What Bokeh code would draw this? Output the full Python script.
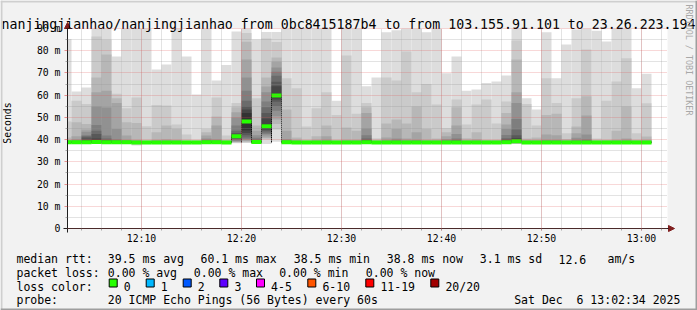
import pandas as pd
from bokeh.plotting import figure
from bokeh.models import (Range1d, FixedTicker, DatetimeTickFormatter, Label,
                          BoxAnnotation, Arrow, NormalHead)
from bokeh.embed import file_html
from bokeh.resources import INLINE

# ---------------- data ----------------
title_text = "nanjingjianhao/nanjingjianhao from 0bc8415187b4 to from 103.155.91.101 to 23.26.223.194"
y_axis_title = "Seconds"
y_ticks = [0, 10, 20, 30, 40, 50, 60, 70, 80, 90]
y_tick_labels = ["0", "10 m", "20 m", "30 m", "40 m", "50 m", "60 m", "70 m", "80 m", "90 m"]
x_tick_times = ["12:10", "12:20", "12:30", "12:40", "12:50", "13:00"]
day = "2025-12-06"
first_minute = "12:03"          # end time of the first step
view_start = "12:02:36"
view_end = "13:02:36"
y_top = 90

# upper half of the 20 sorted pings per minute (p20 .. p11), ms
smoke_upper = [
    [85.3, 48.1, 41.0, 39.8, 39.5, 39.3, 39.2, 39.1, 39.0, 38.9],  # 12:03
    [61.6, 57.5, 47.8, 41.5, 40.0, 39.5, 39.3, 39.2, 39.0, 38.9],  # 12:04
    [63.4, 56.0, 47.0, 44.5, 43.5, 42.0, 41.5, 41.0, 39.6, 39.0],  # 12:05
    [93.0, 86.4, 68.0, 61.3, 54.9, 46.6, 44.0, 42.5, 40.5, 39.2],  # 12:06
    [93.0, 84.9, 78.3, 62.0, 54.5, 41.8, 40.5, 39.8, 39.3, 39.0],  # 12:07
    [77.4, 60.6, 58.6, 56.5, 44.8, 40.0, 39.6, 39.3, 39.1, 38.9],  # 12:08
    [93.0, 54.1, 47.8, 41.8, 39.8, 39.5, 39.3, 39.1, 39.0, 38.9],  # 12:09
    [93.0, 59.0, 47.5, 39.8, 39.5, 39.3, 39.1, 39.0, 38.9, 38.8],  # 12:10
    [93.0, 46.0, 39.6, 39.4, 39.2, 39.1, 39.0, 38.9, 38.9, 38.8],  # 12:11
    [71.5, 55.6, 43.3, 39.8, 39.5, 39.3, 39.1, 39.0, 38.9, 38.8],  # 12:12
    [73.8, 55.3, 46.3, 40.0, 39.6, 39.3, 39.1, 39.0, 38.9, 38.8],  # 12:13
    [93.0, 46.8, 44.8, 39.8, 39.5, 39.3, 39.1, 39.0, 38.9, 38.8],  # 12:14
    [77.4, 42.3, 39.6, 39.4, 39.2, 39.1, 39.0, 38.9, 38.9, 38.8],  # 12:15
    [60.3, 39.8, 39.5, 39.3, 39.2, 39.1, 39.0, 38.9, 38.9, 38.8],  # 12:16
    [93.0, 44.8, 43.3, 41.8, 40.5, 39.8, 39.4, 39.1, 39.0, 38.9],  # 12:17
    [66.6, 59.0, 50.4, 46.3, 40.0, 39.6, 39.3, 39.1, 39.0, 38.9],  # 12:18
    [73.6, 41.8, 39.7, 39.5, 39.3, 39.1, 39.0, 38.9, 38.9, 38.8],  # 12:19
    [88.6, 56.5, 54.6, 52.3, 50.0, 46.3, 44.0, 43.0, 42.3, 41.8],  # 12:20
    [95.0, 88.0, 84.0, 76.0, 68.0, 62.0, 57.5, 55.0, 53.5, 52.0],  # 12:21
    [85.0, 58.6, 46.3, 44.0, 42.0, 40.8, 40.0, 39.5, 39.2, 39.0],  # 12:22
    [88.4, 85.5, 68.0, 63.9, 61.3, 57.1, 54.6, 52.0, 49.5, 47.0],  # 12:23
    [88.4, 83.9, 77.0, 75.0, 72.5, 70.5, 68.7, 66.0, 64.0, 60.6],  # 12:24
    [93.0, 67.6, 53.5, 44.0, 40.2, 39.7, 39.4, 39.2, 39.0, 38.9],  # 12:25
    [93.0, 63.1, 41.0, 39.7, 39.5, 39.3, 39.1, 39.0, 38.9, 38.8],  # 12:26
    [93.0, 45.9, 39.7, 39.5, 39.3, 39.2, 39.1, 39.0, 38.9, 38.8],  # 12:27
    [93.0, 54.1, 41.5, 39.7, 39.5, 39.3, 39.1, 39.0, 38.9, 38.8],  # 12:28
    [93.0, 61.3, 46.3, 41.5, 39.7, 39.4, 39.2, 39.0, 38.9, 38.8],  # 12:29
    [57.5, 51.1, 39.7, 39.5, 39.3, 39.2, 39.1, 39.0, 38.9, 38.8],  # 12:30
    [93.0, 77.8, 45.5, 39.8, 39.5, 39.3, 39.1, 39.0, 38.9, 38.8],  # 12:31
    [93.0, 51.6, 44.0, 39.8, 39.5, 39.3, 39.1, 39.0, 38.9, 38.8],  # 12:32
    [64.0, 56.5, 54.6, 52.0, 45.0, 42.0, 40.5, 39.8, 39.3, 38.9],  # 12:33
    [68.0, 40.6, 39.7, 39.5, 39.3, 39.2, 39.1, 39.0, 38.9, 38.8],  # 12:34
    [88.3, 68.0, 47.3, 41.0, 39.7, 39.4, 39.2, 39.0, 38.9, 38.8],  # 12:35
    [89.2, 66.6, 49.0, 44.8, 40.5, 39.7, 39.4, 39.1, 38.9, 38.8],  # 12:36
    [93.0, 79.6, 47.3, 40.5, 39.7, 39.4, 39.2, 39.0, 38.9, 38.8],  # 12:37
    [93.0, 61.3, 54.9, 43.3, 39.8, 39.5, 39.3, 39.1, 38.9, 38.8],  # 12:38
    [88.3, 65.0, 44.8, 39.7, 39.5, 39.3, 39.1, 39.0, 38.9, 38.8],  # 12:39
    [93.0, 55.8, 40.5, 39.7, 39.5, 39.3, 39.1, 39.0, 38.9, 38.8],  # 12:40
    [69.9, 45.1, 43.3, 41.5, 40.2, 39.7, 39.4, 39.1, 38.9, 38.8],  # 12:41
    [77.4, 58.0, 54.6, 46.3, 42.5, 40.5, 39.7, 39.3, 39.0, 38.8],  # 12:42
    [62.0, 46.8, 40.6, 39.7, 39.5, 39.3, 39.1, 39.0, 38.9, 38.8],  # 12:43
    [62.5, 55.8, 43.3, 40.0, 39.6, 39.4, 39.2, 39.0, 38.9, 38.8],  # 12:44
    [65.5, 58.0, 39.8, 39.6, 39.4, 39.2, 39.1, 39.0, 38.9, 38.8],  # 12:45
    [66.1, 47.3, 39.8, 39.6, 39.4, 39.2, 39.1, 39.0, 38.9, 38.8],  # 12:46
    [68.8, 57.1, 52.0, 46.8, 44.8, 42.1, 40.6, 40.0, 39.5, 39.0],  # 12:47
    [93.0, 84.6, 76.0, 61.3, 56.5, 49.3, 44.5, 42.0, 40.6, 39.6],  # 12:48
    [58.6, 56.0, 40.5, 39.7, 39.5, 39.3, 39.1, 39.0, 38.9, 38.8],  # 12:49
    [53.5, 46.3, 41.0, 39.7, 39.5, 39.3, 39.1, 39.0, 38.9, 38.8],  # 12:50
    [88.3, 67.6, 51.1, 42.3, 39.8, 39.5, 39.3, 39.1, 38.9, 38.8],  # 12:51
    [67.6, 56.5, 51.6, 42.0, 39.8, 39.5, 39.3, 39.1, 38.9, 38.8],  # 12:52
    [82.8, 42.9, 40.3, 39.7, 39.5, 39.3, 39.1, 39.0, 38.9, 38.8],  # 12:53
    [89.5, 58.6, 45.9, 42.9, 40.8, 39.7, 39.4, 39.1, 38.9, 38.8],  # 12:54
    [93.0, 80.5, 59.5, 50.8, 42.3, 40.0, 39.6, 39.3, 39.0, 38.8],  # 12:55
    [89.0, 40.5, 39.7, 39.5, 39.3, 39.2, 39.1, 39.0, 38.9, 38.8],  # 12:56
    [84.1, 57.5, 39.8, 39.6, 39.4, 39.2, 39.1, 39.0, 38.9, 38.8],  # 12:57
    [93.0, 66.1, 44.0, 39.8, 39.5, 39.3, 39.1, 39.0, 38.9, 38.8],  # 12:58
    [93.0, 76.6, 54.9, 40.5, 39.7, 39.4, 39.2, 39.0, 38.9, 38.8],  # 12:59
    [63.1, 42.9, 39.8, 39.6, 39.4, 39.2, 39.1, 39.0, 38.9, 38.8],  # 13:00
    [69.6, 56.4, 41.4, 39.7, 39.5, 39.3, 39.1, 39.0, 38.9, 38.8],  # 13:01
]

# lower half of the pings (p10 .. p1), ms
calm = [38.7, 38.7, 38.6, 38.6, 38.5, 38.5, 38.4, 38.3, 38.2, 38.0]
low_1210 = [38.7, 38.6, 38.6, 38.5, 38.4, 38.3, 38.2, 38.0, 37.8, 37.4]
low_1220 = [41.2, 40.8, 40.4, 40.0, 39.6, 39.3, 39.0, 38.8, 38.6, 38.4]
low_1221 = [44.2, 43.0, 42.0, 41.0, 40.3, 39.8, 39.4, 39.0, 38.7, 38.5]
low_1222 = [38.8, 38.7, 38.6, 38.6, 38.5, 38.5, 38.4, 38.3, 38.2, 38.0]
low_1223 = [45.0, 44.6, 44.0, 43.2, 42.5, 41.8, 41.0, 40.5, 40.0, 38.0]
low_1224 = [59.0, 58.0, 57.0, 55.0, 53.0, 50.5, 49.0, 47.0, 44.5, 39.0]
low_1248 = [38.9, 38.8, 38.7, 38.6, 38.5, 38.5, 38.4, 38.3, 38.2, 38.0]
smoke_lower = [
    calm, calm, calm, calm, calm, calm, calm,                        # 12:03-12:09
    low_1210, calm, calm, calm, calm, calm, calm, calm, calm, calm,  # 12:10-12:19
    low_1220, low_1221, low_1222, low_1223, low_1224,                # 12:20-12:24
    calm, calm, calm, calm, calm,                                    # 12:25-12:29
    calm, calm, calm, calm, calm, calm, calm, calm, calm, calm,      # 12:30-12:39
    calm, calm, calm, calm, calm, calm, calm, calm, low_1248, calm,  # 12:40-12:49
    calm, calm, calm, calm, calm, calm, calm, calm, calm, calm,      # 12:50-12:59
    calm, calm,                                                      # 13:00-13:01
]
baseline_rtt = 38.8

loss_labels = ["0", "1", "2", "3", "4-5", "6-10", "11-19", "20/20"]
loss_colors = ["#26ff00", "#00b8ff", "#0059ff", "#5e00ff", "#ff00ff", "#ff5500", "#ff0000", "#a10000"]

# ---------------- layout constants (pixels) ----------------
W, H = 697, 310
FL, FR, FT, FB = 67, 667, 28, 228     # plot area edges on the canvas
MONO = "DejaVu Sans Mono"
PX_PER_MIN = (FR - FL) / 60.0
PX_PER_MS = (FB - FT) / y_top


def ms(t):
    return pd.Timestamp(f"{day} {t}").value // 10**6


def sx(X):
    return X


def sy(Y):
    return H - Y


t0, t1 = ms(view_start), ms(view_end)
n = len(smoke_upper)
ends = pd.date_range(f"{day} {first_minute}", periods=n, freq="1min")
starts = ends - pd.Timedelta(minutes=1)
left_edges = [max(int(s.value // 10**6), t0) for s in starts]
right_edges = [int(e.value // 10**6) for e in ends]
pings = [sorted(lo + up) for lo, up in zip(smoke_lower, smoke_upper)]
median = [(pp[9] + pp[10]) / 2 for pp in pings]

x_lo = t0 - FL / PX_PER_MIN * 60000
x_hi = t1 + (W - FR) / PX_PER_MIN * 60000
y_lo = -(H - FB) / PX_PER_MS
y_hi = y_top + FT / PX_PER_MS

p = figure(width=W, height=H, output_backend="svg", toolbar_location=None,
           x_axis_type="datetime",
           x_range=Range1d(x_lo, x_hi), y_range=Range1d(y_lo, y_hi),
           min_border=0, min_border_left=0, min_border_right=0,
           min_border_top=0, min_border_bottom=0)
p.background_fill_color = "#f2f2f2"
p.border_fill_color = "#f2f2f2"
p.outline_line_color = None

# white graph canvas
p.add_layout(BoxAnnotation(left=t0, right=t1, bottom=0, top=y_top, fill_color="#ffffff",
                           fill_alpha=1.0, line_alpha=0, level="underlay"))

# smoke: nested bands of sorted pings (clipped at the graph top)
for i in range(10):
    ibot = i + 1
    g = int(190 / 10 * (10 - ibot)) + 50
    col = "#%02x%02x%02x" % (g, g, g)
    p.quad(left=left_edges, right=right_edges,
           bottom=[min(pp[i], y_top) for pp in pings],
           top=[min(pp[19 - i], y_top) for pp in pings],
           fill_color=col, line_color=None)

# median connectors
cx, cy0, cy1 = [], [], []
for s, e, m in zip(left_edges, right_edges, median):
    if m > 39.5:
        for xx in (s, e):
            cx.append(xx)
            cy0.append(baseline_rtt)
            cy1.append(m)
p.segment(x0=cx, y0=cy0, x1=cx, y1=cy1, line_color="#000000", line_width=1, line_dash="1 1")

# median with loss colour
p.quad(left=left_edges, right=right_edges, bottom=[m - 0.9 for m in median], top=[m + 0.9 for m in median],
       fill_color=loss_colors[0], line_color=None)

# axes (fixed inside the canvas) / grid
x_major = [ms(t) for t in x_tick_times]
x_minor = [int(v) for v in pd.date_range(f"{day} 12:04", f"{day} 13:02", freq="2min").astype("int64") // 10**6]
p.xaxis.ticker = FixedTicker(ticks=x_major, minor_ticks=x_minor)
p.xaxis.formatter = DatetimeTickFormatter(minsec="%H:%M", minutes="%H:%M", hourmin="%H:%M", hours="%H:%M")
p.yaxis.ticker = FixedTicker(ticks=y_ticks, minor_ticks=[5, 15, 25, 35, 45, 55, 65, 75, 85])
p.yaxis.major_label_overrides = {t: l for t, l in zip(y_ticks, y_tick_labels)}
p.yaxis.axis_label = y_axis_title
p.xaxis.fixed_location = 0
p.yaxis.fixed_location = t0
p.xaxis.bounds = (t0, t1)
p.yaxis.bounds = (0, 95)

for ax in (p.xaxis[0], p.yaxis[0]):
    ax.axis_line_color = None
    ax.major_label_text_font = MONO
    ax.major_label_text_font_size = "9.8px"
    ax.major_label_text_color = "#000000"
    ax.major_tick_in = 0
    ax.minor_tick_in = 0
    ax.major_tick_line_color = "#de4f4f"
    ax.major_tick_line_alpha = 0.6
    ax.minor_tick_line_color = "#8f8f8f"
    ax.minor_tick_line_alpha = 0.75
p.xaxis.major_tick_out = 2
p.xaxis.minor_tick_out = 2
p.xaxis.major_label_standoff = 2
p.yaxis.major_tick_out = 3
p.yaxis.minor_tick_out = 2
p.yaxis.major_label_standoff = 4
p.yaxis.axis_label_text_font = MONO
p.yaxis.axis_label_text_font_size = "9.8px"
p.yaxis.axis_label_text_font_style = "normal"
p.yaxis.axis_label_text_color = "#000000"
p.yaxis.axis_label_standoff = 21

for gr in (p.xgrid[0], p.ygrid[0]):
    gr.level = "overlay"
    gr.grid_line_color = "#de4f4f"
    gr.grid_line_alpha = 0.45
    gr.grid_line_dash = "1 1"
    gr.minor_grid_line_color = "#8f8f8f"
    gr.minor_grid_line_alpha = 0.5
    gr.minor_grid_line_dash = "1 1"
p.xgrid.bounds = (t0, t1)
p.xgrid.cross_bounds = (0, y_top)
p.ygrid.bounds = (0, y_top)
p.ygrid.cross_bounds = (t0, t1)

# axis lines with arrows
head = dict(size=6, fill_color="#801f1f", line_color="#801f1f")
p.add_layout(Arrow(end=NormalHead(**head), x_start=sx(63), y_start=sy(228), x_end=sx(674), y_end=sy(228),
                   start_units="screen", end_units="screen", line_color="#1f1f1f", line_width=1))
p.add_layout(Arrow(end=NormalHead(**head), x_start=sx(67), y_start=sy(232), x_end=sx(67), y_end=sy(22),
                   start_units="screen", end_units="screen", line_color="#1f1f1f", line_width=1))


def label(text, X, Y, size="11.5px", align="left", color="#000000", angle=0.0, baseline="alphabetic"):
    p.add_layout(Label(x=sx(X), y=sy(Y), x_units="screen", y_units="screen", text=text,
                       text_font=MONO, text_font_size=size, text_align=align,
                       text_baseline=baseline, text_color=color, angle=angle))


label(title_text, 348, 24, size="13.25px", align="center")
label("RRDTOOL / TOBI OETIKER", 688, 4, size="8.4px", color="#a8a8a8", angle=-1.5707963, baseline="middle")

rows = [
    (258.5, [("median rtt:", 16), ("39.5 ms avg", 107.3), ("60.1 ms max", 200), ("38.5 ms min", 293.3),
             ("38.8 ms now", 386.3), ("3.1 ms sd", 479.3), ("12.6", 558), ("am/s", 607)]),
    (272.3, [("packet loss:", 16), ("0.00 % avg", 107.3), ("0.00 % max", 193.3), ("0.00 % min", 278.7),
             ("0.00 % now", 365.3)]),
    (286.1, [("loss color:", 16)]),
    (299.9, [("probe:", 16), ("20 ICMP Echo Pings (56 Bytes) every 60s", 107.3),
             ("Sat Dec \u00a06 13:02:34 2025", 513.7)]),
]
for Y, items in rows:
    for t, X in items:
        label(t, X, Y)

box_x = [108.7, 145.7, 182.7, 219.3, 256, 307.3, 365.3, 430.3]
for lab, col, bx in zip(loss_labels, loss_colors, box_x):
    p.add_layout(BoxAnnotation(left=sx(bx), right=sx(bx + 8), top=sy(278.5), bottom=sy(286.5),
                               left_units="screen", right_units="screen", top_units="screen",
                               bottom_units="screen", fill_color=col, fill_alpha=1.0,
                               line_color="#000000", line_width=1, line_alpha=1.0))
    label(lab, bx + 14.6, 286.1)

# 3D frame of the canvas
for (l, r, t, b, c) in [(0, W, 0, 2, "#cfcfcf"), (0, 2, 0, H, "#cfcfcf"),
                        (0, W, H - 2, H, "#9e9e9e"), (W - 2, W, 0, H, "#9e9e9e")]:
    p.add_layout(BoxAnnotation(left=sx(l), right=sx(r), top=sy(t), bottom=sy(b),
                               left_units="screen", right_units="screen", top_units="screen",
                               bottom_units="screen", fill_color=c, fill_alpha=1.0, line_alpha=0))

open("out.html", "w").write(file_html(p, INLINE))
